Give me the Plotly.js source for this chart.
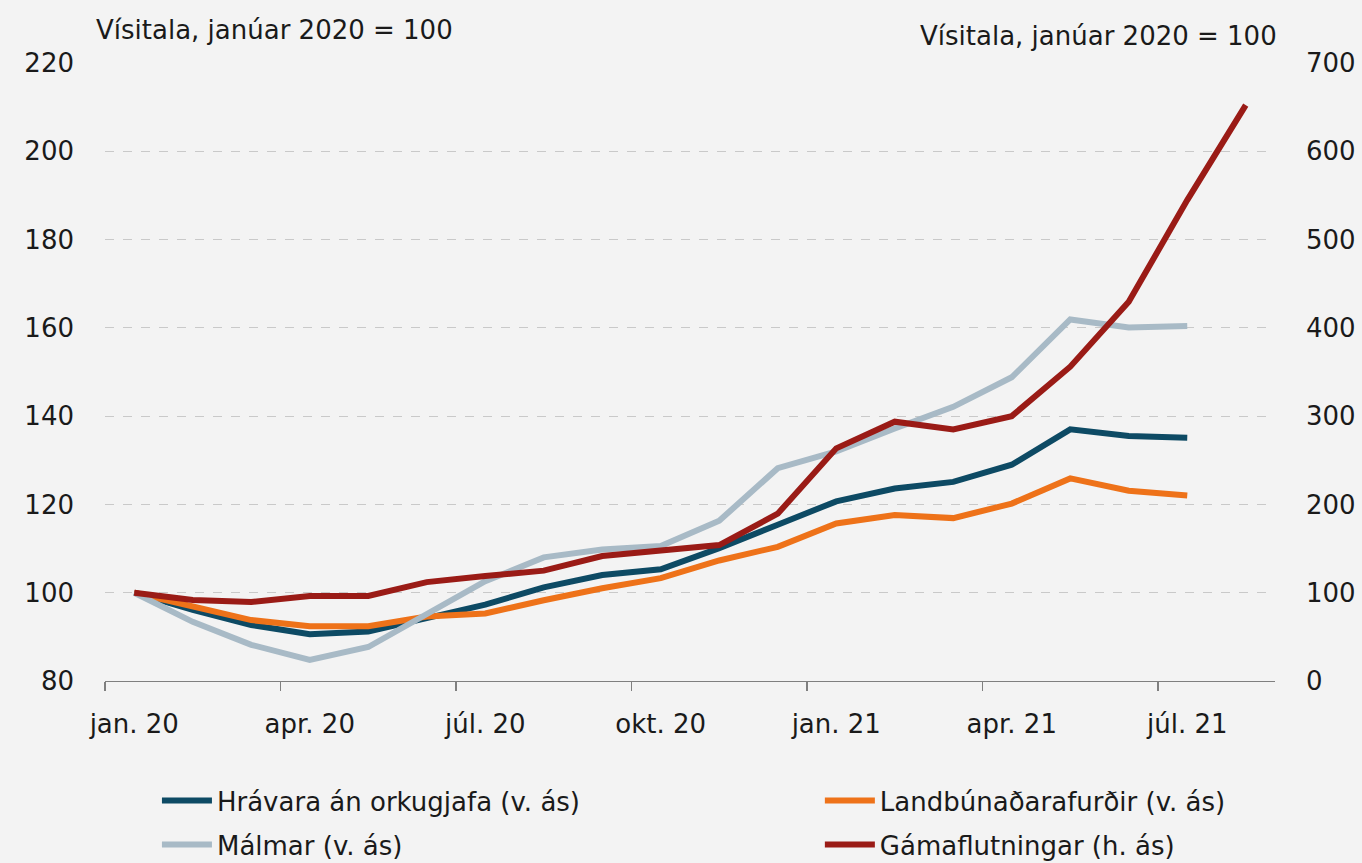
<!DOCTYPE html>
<html>
<head>
<meta charset="utf-8">
<script src="https://cdn.plot.ly/plotly-3.0.1.min.js"></script>
<style>html,body{margin:0;padding:0;background:#f3f3f3;}#chart{width:1362px;height:863px;}</style>
</head>
<body>
<div id="chart"></div>
<script>
// Months, January 2020 to August 2021
const months = ["jan. 20","feb. 20","mar. 20","apr. 20","maí. 20","jún. 20","júl. 20","ágú. 20","sep. 20","okt. 20","nóv. 20","des. 20",
                "jan. 21","feb. 21","mar. 21","apr. 21","maí. 21","jún. 21","júl. 21","ágú. 21"];
const tickLabels = ["jan. 20","apr. 20","júl. 20","okt. 20","jan. 21","apr. 21","júl. 21"];

// Left axis series (index, Jan 2020 = 100)
const hravara = [100, 96.1, 92.7, 90.6, 91.2, 94.3, 97.3, 101.2, 104.0, 105.3, 110.1, 115.4, 120.7, 123.6, 125.1, 129.0, 137.0, 135.5, 135.1];
const landbunadur = [100, 96.8, 93.8, 92.4, 92.4, 94.6, 95.3, 98.3, 101.0, 103.3, 107.3, 110.4, 115.7, 117.6, 116.9, 120.2, 125.9, 123.1, 122.0];
const malmar = [100, 93.4, 88.2, 84.8, 87.7, 95.0, 102.6, 108.0, 109.8, 110.6, 116.3, 128.2, 132.0, 137.2, 142.1, 148.8, 161.9, 160.1, 160.4];
// Right axis series
const gamaflutningar = [100, 91.7, 89.5, 96.3, 96.3, 112.0, 118.9, 125.0, 141.6, 147.6, 154.0, 189.5, 263.5, 293.7, 285.0, 300.0, 356.0, 429.6, 544.7, 652.3];

const names = ["Hrávara án orkugjafa (v. ás)", "Landbúnaðarafurðir (v. ás)", "Málmar (v. ás)", "Gámaflutningar (h. ás)"];
const colors = ["#0d4a64", "#ee7219", "#a8bac6", "#9a1b16"];

const idx = months.map((m, i) => i);
const xFor = arr => arr.map((v, i) => idx[i]);
const tickPos = tickLabels.map(t => months.indexOf(t));
const boundaryTicks = tickPos.map(p => p - 0.5);

const series = [hravara, landbunadur, malmar, gamaflutningar];
const legendIds = ['legend', 'legend2', 'legend3', 'legend4'];
const traces = series.map((s, k) => ({
  type: 'scatter', mode: 'lines',
  x: xFor(s), y: s,
  name: names[k],
  yaxis: k === 3 ? 'y2' : 'y',
  legend: legendIds[k],
  line: {color: colors[k], width: 6},
  hoverinfo: 'skip'
}));

const font = {family: '"DejaVu Sans", sans-serif', size: 26, color: '#1a1a1a'};

const legendBox = (x, y) => ({
  orientation: 'h', x: x, y: y, xanchor: 'left', yanchor: 'top',
  font: font, bgcolor: 'rgba(0,0,0,0)', itemwidth: 50
});

const layout = {
  width: 1362, height: 863,
  paper_bgcolor: '#f3f3f3', plot_bgcolor: '#f3f3f3',
  margin: {l: 105, r: 87, t: 63, b: 182, autoexpand: false},
  font: font,
  showlegend: true,
  xaxis: {
    range: [-0.5, months.length - 0.5],
    tickmode: 'array', tickvals: tickPos, ticktext: tickLabels,
    ticks: '', showgrid: false, zeroline: false,
    showline: true, linecolor: '#7f7f7f', linewidth: 1.2,
    ticklabelstandoff: 20,
    tickfont: font,
    minor: {tickmode: 'array', tickvals: boundaryTicks, ticks: 'outside', ticklen: 9, tickcolor: '#7f7f7f', tickwidth: 1.2, showgrid: false}
  },
  yaxis: {
    range: [80, 220], dtick: 20, tick0: 80,
    showgrid: true, gridcolor: '#c9c9c9', griddash: 'dash', gridwidth: 1,
    zeroline: false, showline: false, ticks: '',
    ticklabelstandoff: 30, tickfont: font
  },
  yaxis2: {
    range: [0, 700], dtick: 100, tick0: 0,
    overlaying: 'y', side: 'right',
    showgrid: false, zeroline: false, showline: false, ticks: '',
    ticklabelstandoff: 30, tickfont: font
  },
  legend: legendBox(0.0444, -0.1555),
  legend2: legendBox(0.611, -0.1555),
  legend3: legendBox(0.0444, -0.2265),
  legend4: legendBox(0.611, -0.2265),
  annotations: [
    {text: 'Vísitala, janúar 2020 = 100', xref: 'paper', yref: 'paper', x: -0.0095, y: 1.053,
     xanchor: 'left', yanchor: 'middle', showarrow: false, font: font},
    {text: 'Vísitala, janúar 2020 = 100', xref: 'paper', yref: 'paper', x: 1.003, y: 1.0435,
     xanchor: 'right', yanchor: 'middle', showarrow: false, font: font}
  ]
};

Plotly.newPlot('chart', traces, layout, {staticPlot: true, displayModeBar: false});
</script>
</body>
</html>
